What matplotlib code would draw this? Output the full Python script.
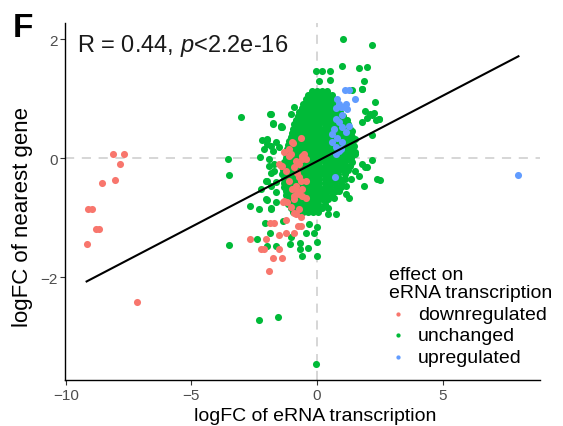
import matplotlib
matplotlib.use("Agg")
import matplotlib.pyplot as plt
import numpy as np

plt.rcParams['font.family'] = ['Liberation Sans', 'DejaVu Sans']
plt.rcParams['mathtext.fontset'] = 'custom'
plt.rcParams['mathtext.rm'] = 'Liberation Sans'
plt.rcParams['mathtext.it'] = 'Liberation Sans:italic'

# ---- data: logFC of eRNA transcription (x) vs logFC of nearest gene (y) ----
# downregulated eRNAs
down_x = [-8.10, -7.69, -7.86, -8.03, -8.54, -9.13, -8.94, -8.81, -8.69, -9.17, -7.18,
          -2.66, -2.02, -2.23, -2.10, -1.52, -1.75, -1.39, -1.92, -1.87, -1.71, -1.50,
          -1.22, -0.92, -1.22, -0.77, -0.65, -1.34, -1.18,
          -0.98, -0.65, -0.94, -1.04, -0.85, -0.58, -0.91, -1.38, -1.24, -0.78, -0.71,
          -0.65, -1.11, -0.85, -0.58, -0.98, -0.71, -0.91, -0.58, -0.71, -1.44, -0.45,
          -0.78, -0.58, -0.91, -0.45, -1.31, -1.04, -0.71, -0.85, -0.65, -0.91, -1.11,
          -1.51, -1.31, -1.11, -0.52, -0.45]
down_y = [0.08, 0.08, -0.10, -0.36, -0.42, -0.85, -0.85, -1.18, -1.18, -1.43, -2.42,
          -1.36, -1.36, -1.52, -1.52, -1.52, -1.67, -1.68, -1.89, -1.09, -1.09, -1.28,
          -1.26, -1.26, -1.04, -1.13, -1.13, -0.74, -0.74,
          0.27, 0.34, 0.25, 0.07, -0.04, -0.01, -0.15, -0.13, -0.21, -0.24, -0.32,
          -0.38, -0.38, -0.46, -0.52, -0.52, -0.60, -0.64, 0.04, -0.10, -0.12, -0.38,
          -0.55, -0.63, -0.69, -0.66, -0.71, -0.82, -0.85, -0.94, -0.99, -0.91, 0.04,
          -0.10, 0.10, 0.16, 0.07, -0.01]

# upregulated eRNAs
up_x = [1.12, 1.28, 1.53, 0.81, 0.94, 0.74, 1.14, 1.20, 1.00, 0.74, 0.87, 0.67,
        1.00, 1.27, 1.14, 0.61, 0.81, 1.00, 0.61, 0.74, 0.87, 0.74, 0.94, 0.71,
        0.87, 1.07, 8.02]
up_y = [1.15, 1.15, 1.00, 1.00, 0.86, 0.84, 0.91, 0.83, 0.72, 0.66, 0.61, 0.49,
        0.52, 0.55, 0.44, 0.41, 0.35, 0.27, 0.27, 0.19, 0.13, 0.07, 0.16, -0.32,
        0.91, 0.86, -0.28]

# unchanged eRNAs: scattered points
unch_x = [-3.53, -3.49, -3.49, -3.03, -1.87, -1.75, -2.26, -2.67, -2.30, -1.84, -2.00,
          -1.98, -2.10, -2.31, -1.55, -0.03,
          -2.39, -1.97, -1.64, -1.08, -0.66, -0.69, -0.35, -0.58, 0.01, 0.01, -0.45,
          -0.12, -0.32, 0.01, -1.34, -1.85, -2.08, -1.03, 0.42, 0.75, 0.45, 2.50, 2.21,
          1.03, 2.20, -0.05, 0.19, 0.52, 0.07, 0.52, 1.67, 2.00, 1.89, 1.40, 1.80, 2.32,
          1.00, 1.93, 2.26, 2.00, 2.33, 2.46, 2.20, 2.00, 2.13,
          -1.84, -1.04, -1.77, -1.44, -1.38, -2.17, -1.97, -1.64, -1.77, -1.51, -1.90,
          -1.71, -1.38, -2.04, -1.84, -1.64, -2.23, -1.97, -1.84, -1.90, -1.71, -1.84,
          -1.97, -1.64, -2.04, -1.84, -1.64,
          1.53, 1.27, 1.80, 1.53, 1.34, 1.14, 1.67, 1.93, 2.39, 1.87, 0.87, 1.14, 0.67,
          1.27,
          -0.12, 0.07, 0.35, -0.91, -0.71, -1.44, -0.98, -0.45, -0.19, 1.80, 2.20, 2.46,
          1.40, 1.53, 1.47, 1.80]
unch_y = [-0.01, -0.28, -1.45, 0.70, 0.74, 0.59, 0.02, -0.80, -0.85, -0.84, -0.70,
          0.30, 0.16, -2.72, -2.67, -3.45,
          -1.36, -1.48, -1.48, -1.43, -1.42, -1.52, -1.51, -1.64, -1.64, -1.40, -1.26,
          -1.25, -1.11, -1.15, -1.06, -1.25, -1.09, -1.32, -0.93, -0.93, -0.84, -0.36,
          -0.03,
          2.00, 1.90, 1.46, 1.46, 1.46, 1.30, 1.32, 1.51, 1.54, 1.30, 1.15, 1.17, 0.94,
          1.55, 0.80, 0.77, 0.67, 0.64, 0.66, 0.39, -0.14, 0.75,
          0.75, 0.75, 0.58, 0.55, 0.52, 0.30, 0.24, 0.27, 0.13, 0.19, -0.12,
          -0.21, -0.26, -0.38, -0.46, -0.57, -0.52, 0.32, 0.21, -0.01, -0.10, -0.24,
          -0.38, -0.40, -0.69, -0.85, -0.74,
          0.10, -0.01, -0.10, -0.21, -0.35, -0.46, -0.29, -0.15, -0.35, -0.46, -0.55,
          -0.60, -0.66, -0.66,
          1.04, 1.00, 1.01, 0.86, 0.66, 0.52, 0.38, 0.72, 0.77, 1.17, 0.72, 0.66,
          0.46, 0.32, 0.21, 0.61]

# unchanged eRNAs: dense core, listed row by row (gene logFC, eRNA logFC values)
core_rows = [
    (1.13, [-0.2, 0.0, 0.2, 0.4]),
    (1.06, [-0.35, -0.15, 0.05, 0.25, 0.45, 0.6]),
    (0.99, [-0.45, -0.25, -0.05, 0.15, 0.35, 0.55]),
    (0.92, [-0.55, -0.35, -0.15, 0.05, 0.25, 0.45, 0.65]),
    (0.85, [-0.6, -0.4, -0.2, 0.0, 0.2, 0.4, 0.6, 0.8]),
    (0.78, [-0.7, -0.5, -0.3, -0.1, 0.1, 0.3, 0.5, 0.7, 0.9]),
    (0.71, [-0.75, -0.55, -0.35, -0.15, 0.05, 0.25, 0.45, 0.65, 0.85, 1.05]),
    (0.64, [-0.85, -0.6, -0.4, -0.2, 0.0, 0.2, 0.4, 0.6, 0.8, 1.0, 1.2]),
    (0.57, [-0.9, -0.7, -0.5, -0.3, -0.1, 0.1, 0.3, 0.5, 0.7, 0.9, 1.1, 1.25]),
    (0.50, [-0.95, -0.75, -0.55, -0.35, -0.15, 0.05, 0.25, 0.45, 0.65, 0.85, 1.05, 1.3]),
    (0.43, [-1.0, -0.8, -0.6, -0.4, -0.2, 0.0, 0.2, 0.4, 0.6, 0.8, 1.0, 1.2, 1.35]),
    (0.36, [-1.05, -0.85, -0.65, -0.45, -0.25, -0.05, 0.15, 0.35, 0.55, 0.75, 0.95, 1.15, 1.4]),
    (0.29, [-1.1, -0.9, -0.7, -0.5, -0.3, -0.1, 0.1, 0.3, 0.5, 0.7, 0.9, 1.1, 1.3]),
    (0.22, [-1.15, -0.95, -0.75, -0.55, -0.35, -0.15, 0.05, 0.25, 0.45, 0.65, 0.85, 1.05, 1.25, 1.45]),
    (0.15, [-1.2, -1.0, -0.8, -0.6, -0.4, -0.2, 0.0, 0.2, 0.4, 0.6, 0.8, 1.0, 1.2, 1.4]),
    (0.08, [-1.25, -1.05, -0.85, -0.65, -0.45, -0.25, -0.05, 0.15, 0.35, 0.55, 0.75, 0.95, 1.15, 1.35, 1.5]),
    (0.01, [-1.25, -1.05, -0.85, -0.65, -0.45, -0.25, -0.05, 0.15, 0.35, 0.55, 0.75, 0.95, 1.15, 1.35]),
    (-0.06, [-1.3, -1.1, -0.9, -0.7, -0.5, -0.3, -0.1, 0.1, 0.3, 0.5, 0.7, 0.9, 1.1, 1.4]),
    (-0.13, [-1.3, -1.1, -0.9, -0.7, -0.5, -0.3, -0.1, 0.1, 0.3, 0.5, 0.7, 0.9, 1.1, 1.3]),
    (-0.20, [-1.35, -1.15, -0.95, -0.75, -0.55, -0.35, -0.15, 0.05, 0.25, 0.45, 0.65, 0.85, 1.05, 1.25]),
    (-0.27, [-1.35, -1.15, -0.95, -0.75, -0.55, -0.35, -0.15, 0.05, 0.25, 0.45, 0.65, 0.85, 1.1]),
    (-0.34, [-1.3, -1.1, -0.9, -0.7, -0.5, -0.3, -0.1, 0.1, 0.3, 0.5, 0.7, 0.9, 1.1]),
    (-0.41, [-1.3, -1.1, -0.9, -0.7, -0.5, -0.3, -0.1, 0.1, 0.3, 0.5, 0.7, 0.95]),
    (-0.48, [-1.3, -1.1, -0.9, -0.7, -0.5, -0.3, -0.1, 0.1, 0.3, 0.5, 0.75, 0.95]),
    (-0.55, [-1.25, -1.05, -0.85, -0.65, -0.45, -0.25, -0.05, 0.15, 0.35, 0.55, 0.75]),
    (-0.62, [-1.25, -1.05, -0.85, -0.65, -0.45, -0.25, -0.05, 0.15, 0.35, 0.6]),
    (-0.69, [-1.2, -1.0, -0.8, -0.6, -0.4, -0.2, 0.0, 0.2, 0.45]),
    (-0.76, [-1.15, -0.95, -0.75, -0.55, -0.35, -0.15, 0.05, 0.3]),
    (-0.83, [-1.05, -0.85, -0.65, -0.45, -0.25, -0.05, 0.2]),
    (-0.90, [-0.95, -0.75, -0.55, -0.35, -0.15, 0.05]),
]

# fitted linear trend (gene logFC = intercept + slope * eRNA logFC)
fit_slope = 0.22
fit_intercept = -0.05

stat_label = r"R = 0.44, $\mathit{p}$<2.2e-16"
categories = ["downregulated", "unchanged", "upregulated"]
palette = {"downregulated": "#F8766D", "unchanged": "#00BA38", "upregulated": "#619CFF"}

# ---- assemble the unchanged series ----
core_x = [x for y, xs in core_rows for x in xs]
core_y = [y for y, xs in core_rows for x in xs]
green_x = np.array(core_x + unch_x)
green_y = np.array(core_y + unch_y)

fig = plt.figure(figsize=(5.63, 4.27), dpi=100)
ax = fig.add_axes([0.1155, 0.1077, 0.8437, 0.836])

dash = (0, (6, 5))
ax.axhline(0, color="#CCCCCC", lw=1.1, ls=dash, zorder=0)
ax.axvline(0, color="#CCCCCC", lw=1.1, ls=dash, zorder=0)

pt = 26
ax.scatter(green_x, green_y, s=pt, color=palette["unchanged"], lw=0, zorder=2, label="unchanged")
ax.scatter(down_x, down_y, s=pt, color=palette["downregulated"], lw=0, zorder=3, label="downregulated")
ax.scatter(up_x, up_y, s=pt, color=palette["upregulated"], lw=0, zorder=4, label="upregulated")

all_x = np.concatenate([green_x, down_x, up_x])
all_y = np.concatenate([green_y, down_y, up_y])
lx = np.array([all_x.min(), all_x.max()])
ax.plot(lx, fit_intercept + fit_slope * lx, color="black", lw=1.5, zorder=5)

xr = all_x.max() - all_x.min()
yr = all_y.max() - all_y.min()
ax.set_xlim(all_x.min() - 0.05 * xr, all_x.max() + 0.05 * xr)
ax.set_ylim(all_y.min() - 0.05 * yr, all_y.max() + 0.05 * yr)

ax.set_xticks([-10, -5, 0, 5])
ax.set_yticks([-2, 0, 2])
ax.set_xticklabels(["\u221210", "\u22125", "0", "5"])
ax.set_yticklabels(["\u22122", "0", "2"])
ax.tick_params(labelsize=11, colors="#333333", length=3.5, width=0.8, pad=2)
ax.tick_params(colors="#333333", labelcolor="#4D4D4D")
for side in ("top", "right"):
    ax.spines[side].set_visible(False)
for side in ("left", "bottom"):
    ax.spines[side].set_linewidth(1.0)
    ax.spines[side].set_color("black")

ax.set_xlabel("logFC of eRNA transcription", fontsize=14)
ax.xaxis.set_label_coords(0.526, -0.075)
ax.set_ylabel("logFC of nearest gene", fontsize=16)
ax.yaxis.set_label_coords(-0.068, 0.46)

ax.text(0.025, 0.975, stat_label, transform=ax.transAxes, fontsize=17,
        ha="left", va="top", color="#1A1A1A")
fig.text(0.022, 0.97, "F", fontsize=24, fontweight="bold", ha="left", va="top")

h = ax.get_legend_handles_labels()
hd = dict(zip(h[1], h[0]))
leg = ax.legend([hd[c] for c in categories], categories, title="effect on\neRNA transcription",
                loc="lower left", bbox_to_anchor=(0.665, 0.018), frameon=False,
                fontsize=14, title_fontsize=14, markerscale=0.6, handletextpad=0.5,
                labelspacing=0.2, handlelength=1.0, borderaxespad=0.0,
                alignment="left")
leg.get_title().set_linespacing(1.1)

fig.savefig("out.png", dpi=100)
